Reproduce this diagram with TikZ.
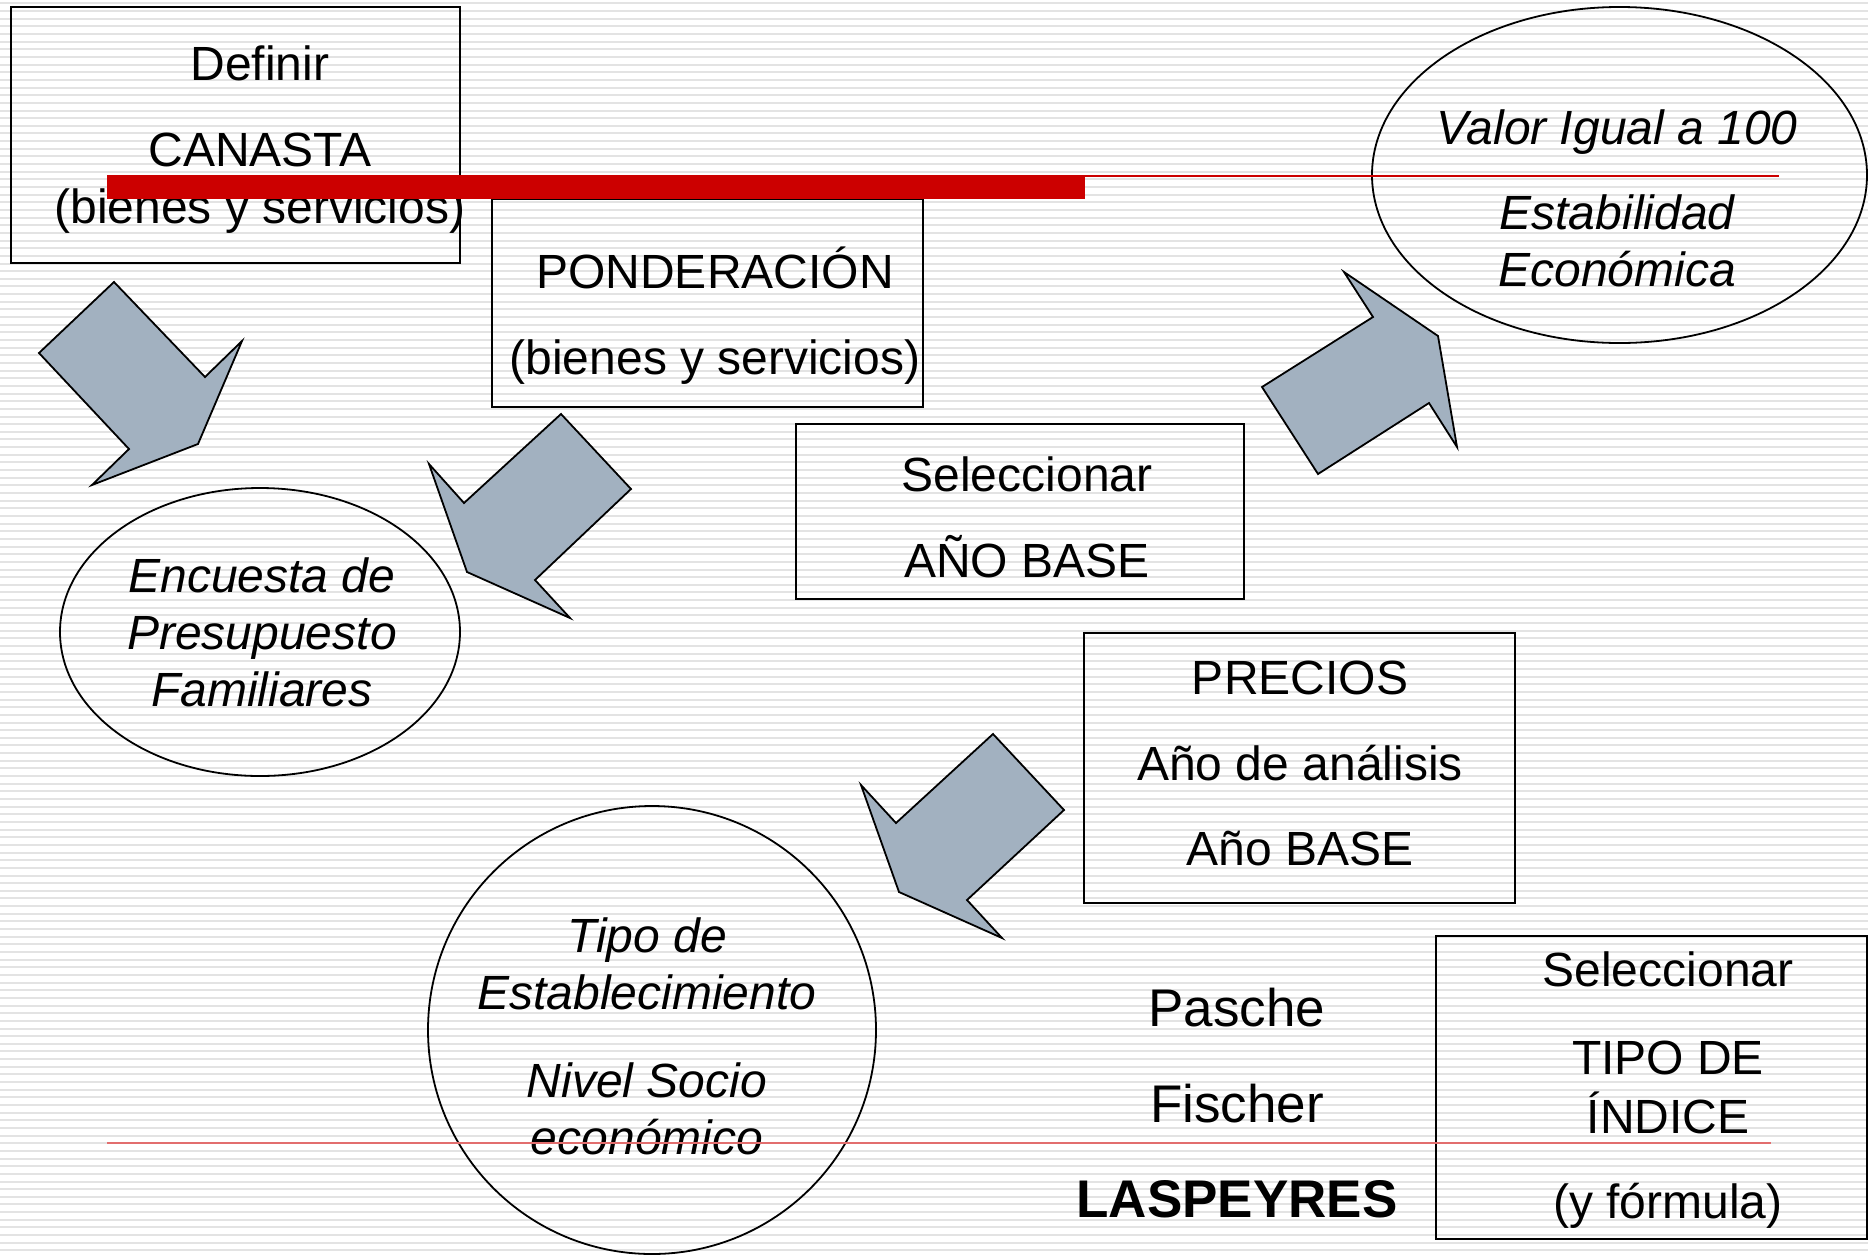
\documentclass[tikz,border=0pt]{standalone}
\usepackage{fontspec}
\setmainfont{Liberation Sans}
\usetikzlibrary{shapes.geometric}
\definecolor{arrowgray}{RGB}{162,177,192}
\definecolor{barred}{RGB}{204,0,0}
\definecolor{linered}{RGB}{226,110,110}

\begin{document}
\begin{tikzpicture}[x=0.5pt,y=-0.5pt,
stripe/.style={gray!22,line width=1pt},
stepbox/.style={draw,rectangle,inner sep=0pt,line width=0.9pt},
bubble/.style={draw,ellipse,inner sep=0pt,line width=0.9pt},
txt/.style={align=center,inner sep=0pt,font=\fontsize{24}{28.5}\selectfont},
txtit/.style={txt,font=\fontsize{24}{28.5}\selectfont\itshape},
txtbig/.style={txt,font=\fontsize{26.5}{31.5}\selectfont},
blockarrow/.style={draw,fill=arrowgray,line width=0.9pt,line join=miter}]

\useasboundingbox (0,0) rectangle (1868,1254);
\fill[white] (0,0) rectangle (1868,1254);
\foreach \k in {0,...,163}
  \draw[stripe] (0,{3.4+7.65*\k}) -- (1868,{3.4+7.65*\k});

\node[stepbox,minimum width=224.5pt,minimum height=128pt] (canasta) at (235.5,135) {};
\node[stepbox,minimum width=215.5pt,minimum height=104pt] (ponderacion) at (707.5,303) {};
\node[stepbox,minimum width=224pt,minimum height=87.5pt] (aniobase) at (1020,511.5) {};
\node[stepbox,minimum width=215.5pt,minimum height=135pt] (precios) at (1299.5,768) {};
\node[stepbox,minimum width=215.5pt,minimum height=151.5pt] (indice) at (1651.5,1087.5) {};
\node[bubble,minimum width=200pt,minimum height=144pt] (encuesta) at (260,632) {};
\node[bubble,minimum width=247.5pt,minimum height=168pt] (valor) at (1619.5,175) {};
\node[bubble,minimum width=224pt,minimum height=224pt] (tipo) at (652,1030) {};

\node[txt] (canasta-t) at (260,139.5) {Definir\\[14.5pt] CANASTA\\ (bienes y servicios)};
\node[txt] (ponderacion-t) at (715,315.5) {PONDERACIÓN\\[14.5pt] (bienes y servicios)};
\node[txt] (aniobase-t) at (1027,517.5) {Seleccionar\\[14.5pt] AÑO BASE};
\node[txt] (precios-t) at (1300,763.3) {PRECIOS\\[14.5pt] Año de análisis\\[14pt] Año BASE};
\node[txt] (indice-t) at (1668,1090.5) {Seleccionar\\[15.5pt] TIPO DE\\[1pt] ÍNDICE\\[14pt] (y fórmula)};
\node[txtit] (encuesta-t) at (262,632) {Encuesta de\\ Presupuesto\\ Familiares};
\node[txtit] (valor-t) at (1617,198.5) {Valor Igual a 100\\[14pt] Estabilidad\\ Económica};
\node[txtit] (tipo-t) at (647,1036.5) {Tipo de\\ Establecimiento\\[15.5pt] Nivel Socio\\ económico};
\node[txtbig] (formulas) at (1237,1103) {Pasche\\[16.5pt] Fischer\\[16pt] \textbf{LASPEYRES}};

\draw[blockarrow] (39,353) -- (114,282) -- (205,377) -- (242,341) -- (198,444) -- (92,485) -- (129,449) -- cycle;
\draw[blockarrow] (561,414) -- (631,489) -- (535,580) -- (570,618) -- (467,572) -- (429,464) -- (464,503) -- cycle;
\draw[blockarrow] (1344,272) -- (1373,317) -- (1262,387) -- (1318,474) -- (1429,403) -- (1457,447) -- (1438,336) -- cycle;
\draw[blockarrow] (993,734) -- (1064,810) -- (967,900) -- (1002,938) -- (899,892) -- (861,785) -- (896,823) -- cycle;

\fill[barred] (107,175) rectangle (1085,199);
\draw[barred,line width=1pt] (1085,176) -- (1779,176);
\draw[linered,line width=1pt] (107,1143) -- (1771,1143);
\end{tikzpicture}
\end{document}
